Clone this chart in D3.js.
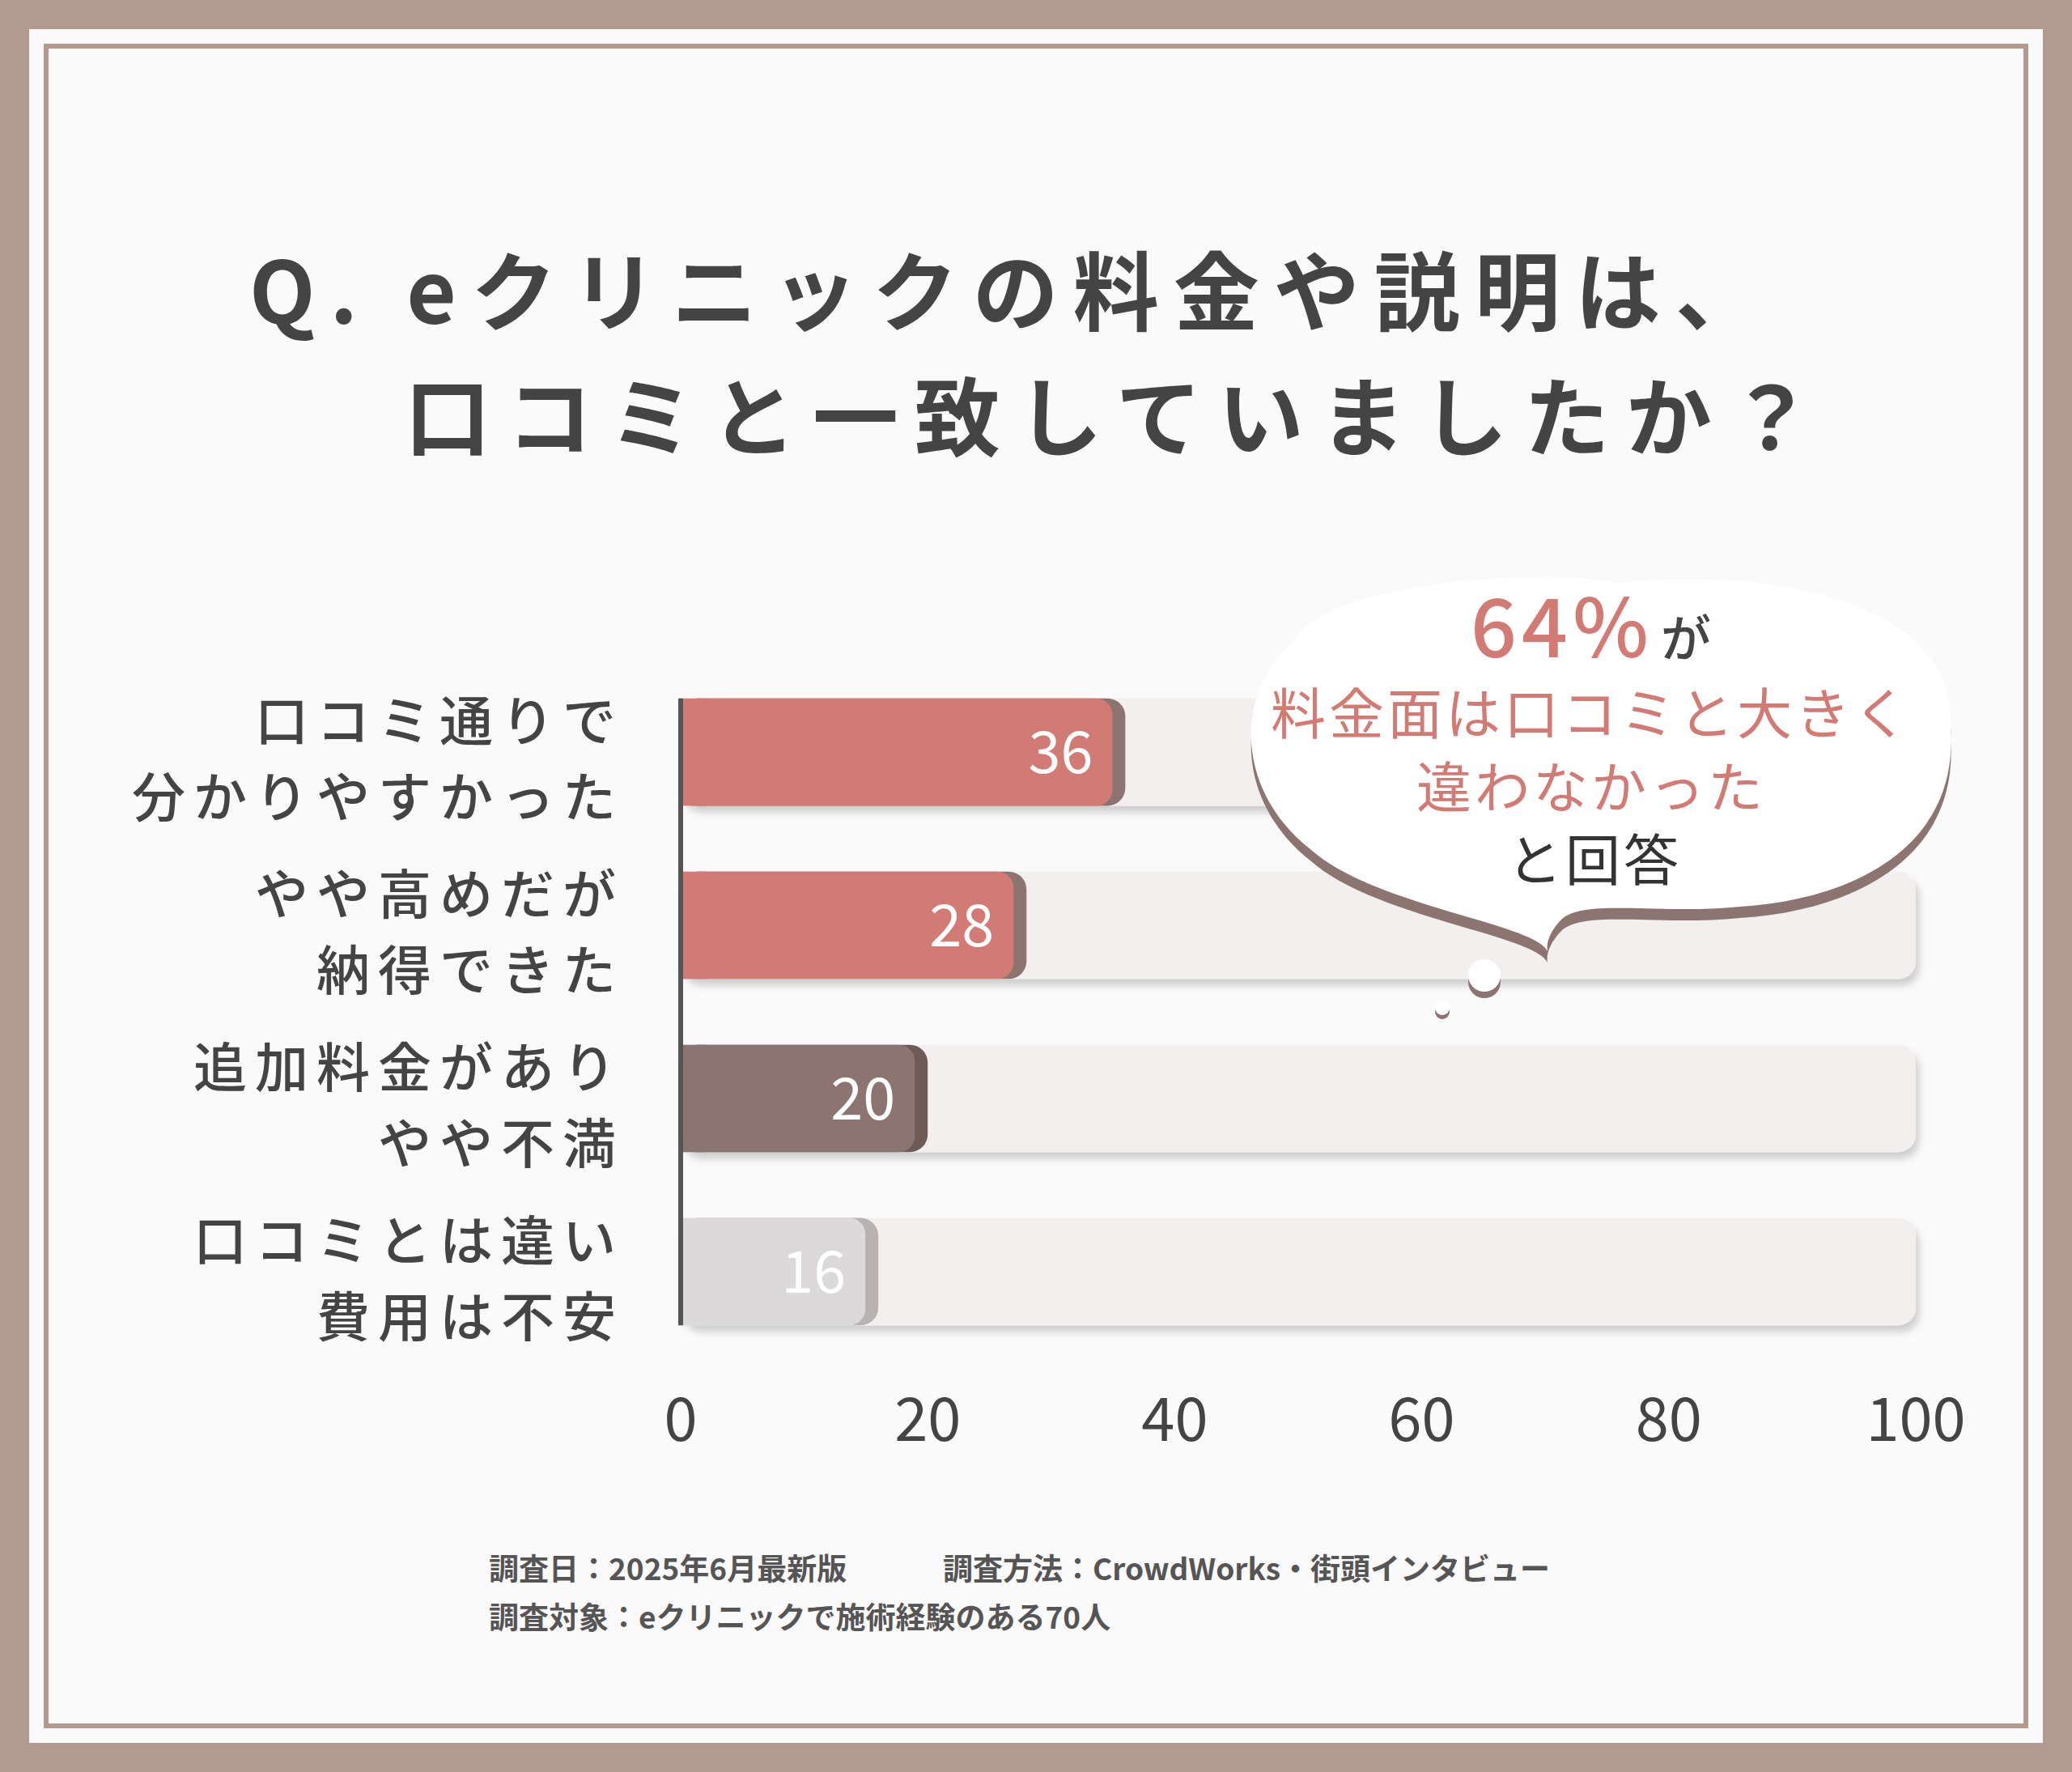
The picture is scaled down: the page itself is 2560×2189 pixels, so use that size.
<!DOCTYPE html>
<html><head><meta charset="utf-8">
<script src="https://cdn.jsdelivr.net/npm/d3@7"></script>
<style>body{margin:0;background:#b39a90;} text{font-family:"Noto Sans CJK JP","Noto Sans",sans-serif;}</style>
</head><body>
<script>
const categories = [["口コミ通りで","分かりやすかった"],["やや高めだが","納得できた"],["追加料金があり","やや不満"],["口コミとは違い","費用は不安"]];
const values = [36, 28, 20, 16];
const barColors = ["#d27a74", "#d27a74", "#8c7570", "#dcd9da"];
const edgeColors = ["#8c7570", "#8c7570", "#6e5a56", "#b9b2b2"];
const ticks = [0, 20, 40, 60, 80, 100];

const W = 2560, H = 2189;
const svg = d3.select("body").append("svg").attr("width", W).attr("height", H);
const defs = svg.append("defs");
const f = defs.append("filter").attr("id", "sh").attr("x", "-10%").attr("y", "-10%").attr("width", "130%").attr("height", "140%");
f.append("feDropShadow").attr("dx", 4).attr("dy", 8).attr("stdDeviation", 5).attr("flood-color", "#000").attr("flood-opacity", 0.18);

svg.append("rect").attr("x", 36).attr("y", 36).attr("width", W - 72).attr("height", H - 72).attr("fill", "#fbfafa");
svg.append("rect").attr("x", 57).attr("y", 57).attr("width", W - 114).attr("height", H - 114)
  .attr("fill", "none").attr("stroke", "#b39a90").attr("stroke-width", 6);

const title = svg.append("text").attr("fill", "#444").attr("font-size", 106).attr("font-weight", 700).attr("letter-spacing", 18);
title.append("tspan").attr("x", 308).attr("y", 400).text("Q. eクリニックの料金や説明は、");
title.append("tspan").attr("x", 500).attr("y", 555).attr("letter-spacing", 20).text("口コミと一致していましたか？");

const x = d3.scaleLinear().domain([0, 100]).range([841, 2367]);
const y = d3.scaleBand().domain(d3.range(values.length)).range([820, 1680]).paddingInner(0.38).paddingOuter(0.2);
const bh = y.bandwidth();

const rows = svg.append("g").selectAll("g").data(values).join("g").attr("transform", (d, i) => `translate(0,${y(i)})`);
rows.append("rect").attr("x", x(0)).attr("width", x(100) - x(0)).attr("height", bh).attr("rx", 22)
  .attr("fill", "#f3efee").attr("filter", "url(#sh)");
rows.append("rect").attr("x", x(0)).attr("width", d => x(d) - x(0)).attr("height", bh).attr("rx", 22)
  .attr("fill", (d, i) => edgeColors[i]);
rows.append("rect").attr("x", x(0)).attr("width", d => x(d) - x(0) - 16).attr("height", bh).attr("rx", 20)
  .attr("fill", (d, i) => barColors[i]);
rows.append("rect").attr("x", x(0)).attr("width", 30).attr("height", bh).attr("fill", (d, i) => barColors[i]);
rows.append("text").attr("x", d => x(d) - 40).attr("y", bh / 2 + 26).attr("text-anchor", "end")
  .attr("fill", "#fff").attr("font-size", 72).attr("font-family", "Roboto").text(d => d);

rows.each(function(d, i) {
  const t = d3.select(this).append("text").attr("text-anchor", "end").attr("fill", "#444")
    .attr("font-size", 66).attr("font-weight", 500).attr("letter-spacing", 10);
  categories[i].forEach((s, j) => t.append("tspan").attr("x", 771).attr("y", j === 0 ? 52 : 146).text(s));
});

svg.append("line").attr("x1", x(0)).attr("x2", x(0)).attr("y1", y(0)).attr("y2", y(3) + bh)
  .attr("stroke", "#555").attr("stroke-width", 6);

svg.append("g").selectAll("text").data(ticks).join("text").attr("x", d => x(d)).attr("y", 1780)
  .attr("text-anchor", "middle").attr("fill", "#444").attr("font-size", 74).text(d => d);

// speech bubble
const bub = svg.append("g");
const bpath = "M1600,790 C1640,720 1900,700 2000,720 C2180,700 2420,740 2410,900 C2420,1040 2300,1110 2150,1120 C2050,1130 1960,1110 1930,1135 C1915,1150 1910,1165 1912,1175 C1895,1140 1700,1120 1620,1050 C1530,980 1520,860 1600,790 Z";
bub.append("path").attr("d", bpath).attr("fill", "#8c7570").attr("transform", "translate(0,14)");
bub.append("path").attr("d", bpath).attr("fill", "#fff");
bub.append("circle").attr("cx", 1834).attr("cy", 1213).attr("r", 20).attr("fill", "#8c7570");
bub.append("circle").attr("cx", 1834).attr("cy", 1205).attr("r", 20).attr("fill", "#fff");
bub.append("circle").attr("cx", 1782).attr("cy", 1250).attr("r", 9).attr("fill", "#8c7570");
bub.append("circle").attr("cx", 1782).attr("cy", 1245).attr("r", 9).attr("fill", "#fff");
bub.append("text").attr("x", 1930).attr("y", 812).attr("text-anchor", "middle").attr("font-weight", 500)
  .attr("fill", "#d27a74").attr("font-size", 100).attr("letter-spacing", 6).text("64%");
bub.append("text").attr("x", 2052).attr("y", 812).attr("font-weight", 500)
  .attr("fill", "#444").attr("font-size", 62).text("が");
bub.append("text").attr("x", 1966).attr("y", 907).attr("text-anchor", "middle").attr("fill", "#d27a74")
  .attr("font-size", 68).attr("letter-spacing", 4).text("料金面は口コミと大きく");
bub.append("text").attr("x", 1966).attr("y", 998).attr("text-anchor", "middle").attr("fill", "#d27a74")
  .attr("font-size", 68).attr("letter-spacing", 4).text("違わなかった");
bub.append("text").attr("x", 1970).attr("y", 1088).attr("text-anchor", "middle").attr("fill", "#333")
  .attr("font-size", 68).attr("letter-spacing", 4).text("と回答");

const foot = svg.append("g").attr("fill", "#555").attr("font-size", 37).attr("font-weight", 700);
foot.append("text").attr("x", 604).attr("y", 1952).text("調査日：2025年6月最新版");
foot.append("text").attr("x", 1165).attr("y", 1952).text("調査方法：CrowdWorks・街頭インタビュー");
foot.append("text").attr("x", 604).attr("y", 2012).text("調査対象：eクリニックで施術経験のある70人");
</script>
</body></html>
